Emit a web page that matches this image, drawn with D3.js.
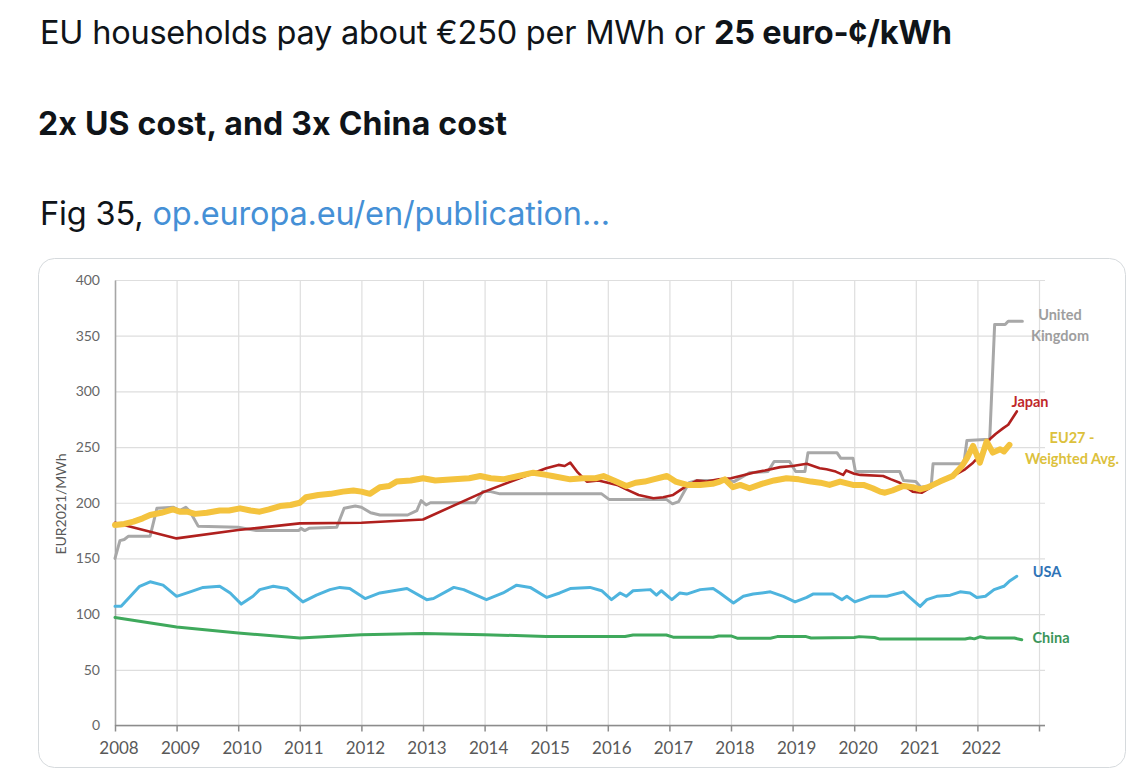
<!DOCTYPE html>
<html>
<head>
<meta charset="utf-8">
<script src="https://cdn.jsdelivr.net/npm/d3@7"></script>
<style>
  html, body { margin: 0; padding: 0; background: #ffffff; }
  svg { display: block; }
</style>
</head>
<body>
<svg id="chart" width="1138" height="778"></svg>
<script>
// ---------------- DATA ----------------
const yTicks = [0, 50, 100, 150, 200, 250, 300, 350, 400];
const xYears = [2008, 2009, 2010, 2011, 2012, 2013, 2014, 2015, 2016, 2017, 2018, 2019, 2020, 2021, 2022, 2023];

const ukData = [[2008.00,150],[2008.08,166],[2008.15,167],[2008.22,170],[2008.57,170],[2008.68,195],[2008.95,196],[2009.05,193],[2009.15,196],[2009.22,192],[2009.35,179],[2010.0,178],[2010.3,175],[2010.98,175],[2011.02,177],[2011.08,175],[2011.15,177],[2011.6,178],[2011.72,195],[2011.9,197],[2012.0,196],[2012.15,191],[2012.3,189],[2012.75,189],[2012.9,193],[2012.97,202],[2013.05,198],[2013.12,200],[2013.85,200],[2013.97,210],[2014.1,210],[2014.25,208],[2015.9,208],[2016.02,203],[2016.95,203],[2017.05,199],[2017.15,201],[2017.32,218],[2017.45,220],[2017.9,220],[2018.05,219],[2018.3,227],[2018.6,228],[2018.7,237],[2018.95,237],[2019.05,228],[2019.2,228],[2019.25,245],[2019.72,245],[2019.78,240],[2019.98,240],[2020.02,228],[2020.74,228],[2020.8,220],[2021.0,219],[2021.08,214],[2021.25,215],[2021.28,235],[2021.78,235],[2021.83,256],[2022.2,257],[2022.28,360],[2022.45,360],[2022.5,363],[2022.73,363]];

const japanData = [[2008.0,182],[2009.0,168],[2010.0,175.5],[2011.0,181.5],[2012.0,182],[2013.0,185],[2014.0,210],[2015.0,231],[2015.2,234],[2015.3,233],[2015.39,236],[2015.5,228],[2015.66,219],[2015.85,220],[2016.0,218],[2016.15,216],[2016.3,212],[2016.5,207],[2016.74,204],[2016.9,205],[2017.06,207],[2017.25,214],[2017.45,220],[2017.6,219],[2017.8,221],[2018.0,222],[2018.15,224],[2018.36,227],[2018.55,229],[2018.8,232],[2019.0,233],[2019.23,235],[2019.44,231],[2019.55,230],[2019.7,228],[2019.82,225],[2019.87,229],[2020.0,226],[2020.1,225],[2020.47,224],[2020.6,221],[2020.74,218],[2020.95,210],[2021.1,209],[2021.25,214],[2021.38,220],[2021.6,224],[2021.8,230],[2021.93,236],[2022.1,246],[2022.2,257],[2022.3,262],[2022.42,267],[2022.5,270],[2022.64,282]];

const eu27Data = [[2008.0,180],[2008.15,181],[2008.3,183],[2008.45,186],[2008.57,189],[2008.75,191],[2008.94,194],[2009.05,192],[2009.17,192],[2009.3,190],[2009.49,191],[2009.7,193],[2009.85,193],[2010.03,195],[2010.2,193],[2010.35,192],[2010.5,194],[2010.68,197],[2010.85,198],[2011.0,200],[2011.1,205],[2011.3,207],[2011.5,208],[2011.7,210],[2011.87,211],[2012.0,210],[2012.14,208],[2012.3,214],[2012.45,215],[2012.57,219],[2012.8,220],[2013.0,222],[2013.2,220],[2013.5,221],[2013.75,222],[2013.93,224],[2014.1,222],[2014.3,221],[2014.55,224],[2014.79,227],[2015.0,225],[2015.1,224],[2015.39,221],[2015.6,222],[2015.8,222],[2015.93,224],[2016.1,220],[2016.3,215],[2016.45,218],[2016.6,219],[2016.74,221],[2016.96,224],[2017.1,219],[2017.29,216],[2017.5,216],[2017.7,217],[2017.82,219],[2017.9,221],[2018.03,214],[2018.15,216],[2018.3,213],[2018.5,217],[2018.7,220],[2018.9,222],[2019.1,221],[2019.3,219],[2019.45,218],[2019.6,216],[2019.77,219],[2019.98,216],[2020.15,216],[2020.3,213],[2020.42,210],[2020.5,209],[2020.62,211],[2020.8,215],[2020.95,214],[2021.07,212],[2021.2,214],[2021.39,219],[2021.6,224],[2021.75,233],[2021.83,240],[2021.93,251],[2022.04,236],[2022.15,255],[2022.25,245],[2022.37,248],[2022.43,246],[2022.52,252]];

const usaData = [[2008.0,107],[2008.1,107],[2008.4,125],[2008.57,129],[2008.78,126],[2009.0,116],[2009.22,120],[2009.43,124],[2009.7,125],[2009.87,119],[2010.05,109],[2010.24,116],[2010.35,122],[2010.57,125],[2010.79,123],[2011.05,111],[2011.27,117],[2011.49,122],[2011.65,124],[2011.81,123],[2012.06,114],[2012.3,119],[2012.52,121],[2012.74,123],[2013.06,113],[2013.17,114],[2013.5,124],[2013.66,122],[2014.03,113],[2014.3,119],[2014.52,126],[2014.74,124],[2015.01,115],[2015.22,119],[2015.39,123],[2015.71,124],[2015.9,121],[2016.06,113],[2016.2,119],[2016.3,116],[2016.41,121],[2016.69,122],[2016.79,117],[2016.87,121],[2017.04,113],[2017.17,119],[2017.28,118],[2017.5,122],[2017.71,123],[2017.82,119],[2018.04,110],[2018.2,116],[2018.36,118],[2018.64,120],[2018.85,116],[2019.04,111],[2019.23,115],[2019.33,118],[2019.65,118],[2019.8,113],[2019.88,116],[2020.01,111],[2020.26,116],[2020.53,116],[2020.8,120],[2021.07,107],[2021.18,113],[2021.34,116],[2021.56,117],[2021.72,120],[2021.88,119],[2021.99,115],[2022.13,116],[2022.27,122],[2022.43,125],[2022.53,130],[2022.64,134]];

const chinaData = [[2008.0,97],[2009.0,88.5],[2010.0,83],[2011.0,78.5],[2012.0,81.5],[2013.0,82.5],[2014.0,81.5],[2015.0,80],[2016.28,80],[2016.41,81.3],[2016.95,81.3],[2017.06,79.3],[2017.71,79.3],[2017.8,80.4],[2018.0,80.4],[2018.1,78.4],[2018.64,78.4],[2018.75,79.8],[2019.22,79.8],[2019.3,78.6],[2020.0,79],[2020.08,79.8],[2020.33,79],[2020.42,77.6],[2021.8,77.6],[2021.88,78.6],[2021.95,77.8],[2022.04,79.6],[2022.15,78.5],[2022.6,78.5],[2022.72,77]];

const seriesNames = ["United Kingdom", "Japan", "EU27 - Weighted Avg.", "USA", "China"];
const yAxisTitle = "EUR2021/MWh";
const headline1a = "EU households pay about €250 per MWh or ";
const headline1b = "25 euro-¢/kWh";
const headline2 = "2x US cost, and 3x China cost";
const sourcePrefix = "Fig 35, ";
const sourceLink = "op.europa.eu/en/publication…";

// ---------------- LAYOUT ----------------
const svg = d3.select("#chart");
const plot = { left: 115, right: 1039, top: 280, bottom: 725.5, gridRight: 1045 };

const x = d3.scaleLinear().domain([2008, 2023]).range([plot.left, plot.right]);
const y = d3.scaleLinear().domain([0, 400]).range([plot.bottom, plot.top]);

const tweetFont = "Inter, 'Liberation Sans', sans-serif";
const chartFont = "Lato, 'Open Sans', sans-serif";

function fitWidth(sel, target) {
  const node = sel.node();
  const w = node.getComputedTextLength();
  const n = node.textContent.length;
  if (n > 1) sel.attr("letter-spacing", ((target - w) / (n - 1)).toFixed(3));
}

// Headline texts
const t1 = svg.append("text").attr("x", 40).attr("y", 43.5)
  .style("font-family", tweetFont).style("font-size", "32.5px").attr("fill", "#0f1419");
t1.append("tspan").text(headline1a);
t1.append("tspan").attr("font-weight", 700).text(headline1b);
fitWidth(t1, 912);

const t2 = svg.append("text").attr("x", 38).attr("y", 135)
  .style("font-family", tweetFont).style("font-size", "32px").attr("font-weight", 700)
  .attr("fill", "#0f1419").text(headline2);
fitWidth(t2, 469);

const t3 = svg.append("text").attr("x", 40).attr("y", 225)
  .style("font-family", tweetFont).style("font-size", "32.5px").attr("fill", "#0f1419");
t3.append("tspan").text(sourcePrefix);
t3.append("tspan").attr("fill", "#4590d6").text(sourceLink);
fitWidth(t3, 570);

// Card
svg.append("rect").attr("x", 38.5).attr("y", 258.5).attr("width", 1087).attr("height", 509)
  .attr("rx", 16).attr("fill", "#ffffff").attr("stroke", "#d6dadd").attr("stroke-width", 1);

// Horizontal grid
const yGrid = svg.append("g").attr("transform", `translate(${plot.left},0)`)
  .call(d3.axisLeft(y).tickValues(yTicks).tickSize(-(plot.gridRight - plot.left)).tickFormat(""));
yGrid.select(".domain").remove();
yGrid.selectAll(".tick line").attr("stroke", "#dedede").attr("stroke-width", 1.2);

// Vertical grid
const xGrid = svg.append("g").attr("transform", `translate(0,${plot.bottom})`)
  .call(d3.axisBottom(x).tickValues(xYears.slice(1)).tickSize(-(plot.bottom - plot.top)).tickFormat(""));
xGrid.select(".domain").remove();
xGrid.selectAll(".tick line").attr("stroke", "#dedede").attr("stroke-width", 1.2);

// Y axis labels
const yAxis = svg.append("g").attr("transform", `translate(${plot.left},0)`)
  .call(d3.axisLeft(y).tickValues(yTicks).tickSize(0).tickPadding(15));
yAxis.select(".domain").attr("stroke", "#a6a6a6").attr("stroke-width", 1.6);
yAxis.selectAll(".tick text").style("font-family", chartFont).style("font-size", "14px")
  .attr("fill", "#666666");

// X axis
const xAxis = svg.append("g").attr("transform", `translate(0,${plot.bottom})`)
  .call(d3.axisBottom(x).tickValues(xYears).tickSize(6).tickPadding(10).tickFormat(d3.format("d")));
xAxis.select(".domain").attr("d", `M${plot.left},0H${plot.gridRight}`).attr("stroke", "#8c8c8c").attr("stroke-width", 1.5);
xAxis.selectAll(".tick line").attr("stroke", "#8c8c8c").attr("stroke-width", 1.5);
xAxis.selectAll(".tick text").style("font-family", chartFont).style("font-size", "17px")
  .attr("fill", "#595959").attr("dx", 3.5);
xAxis.selectAll(".tick").filter(d => d === 2023).select("text").remove();

// Y axis title
svg.append("text").attr("transform", `translate(66,504) rotate(-90)`)
  .attr("text-anchor", "middle").style("font-family", chartFont).style("font-size", "14px")
  .attr("fill", "#595959").text(yAxisTitle);

// Lines
const line = d3.line().x(d => x(d[0])).y(d => y(d[1])).curve(d3.curveLinear);
const series = [
  { data: chinaData, color: "#3fa95c", width: 3 },
  { data: usaData, color: "#4eb4de", width: 3 },
  { data: ukData, color: "#a8a8a8", width: 3 },
  { data: japanData, color: "#b0201e", width: 2.6 },
  { data: eu27Data, color: "#f4c33e", width: 6 },
];
svg.append("g").selectAll("path").data(series).join("path")
  .attr("d", d => line(d.data)).attr("fill", "none")
  .attr("stroke", d => d.color).attr("stroke-width", d => d.width)
  .attr("stroke-linejoin", "round").attr("stroke-linecap", "round");

// Series labels
const labels = [
  { lines: ["United", "Kingdom"], x: 1060, y: 320, color: "#9e9e9e" },
  { lines: ["Japan"], x: 1030, y: 407, color: "#c0282a" },
  { lines: ["EU27 -", "Weighted Avg."], x: 1072, y: 443, color: "#dcc13c" },
  { lines: ["USA"], x: 1047, y: 577, color: "#2f73b6" },
  { lines: ["China"], x: 1051, y: 643, color: "#3b955a" },
];
labels.forEach((lb, i) => {
  const t = svg.append("text").attr("text-anchor", "middle")
    .style("font-family", chartFont).style("font-size", "14.5px").attr("font-weight", 700)
    .attr("fill", lb.color).attr("data-series", seriesNames[i]);
  lb.lines.forEach((s, j) => {
    t.append("tspan").attr("x", lb.x).attr("y", lb.y + j * 20.5).text(s);
  });
});
</script>
</body>
</html>
